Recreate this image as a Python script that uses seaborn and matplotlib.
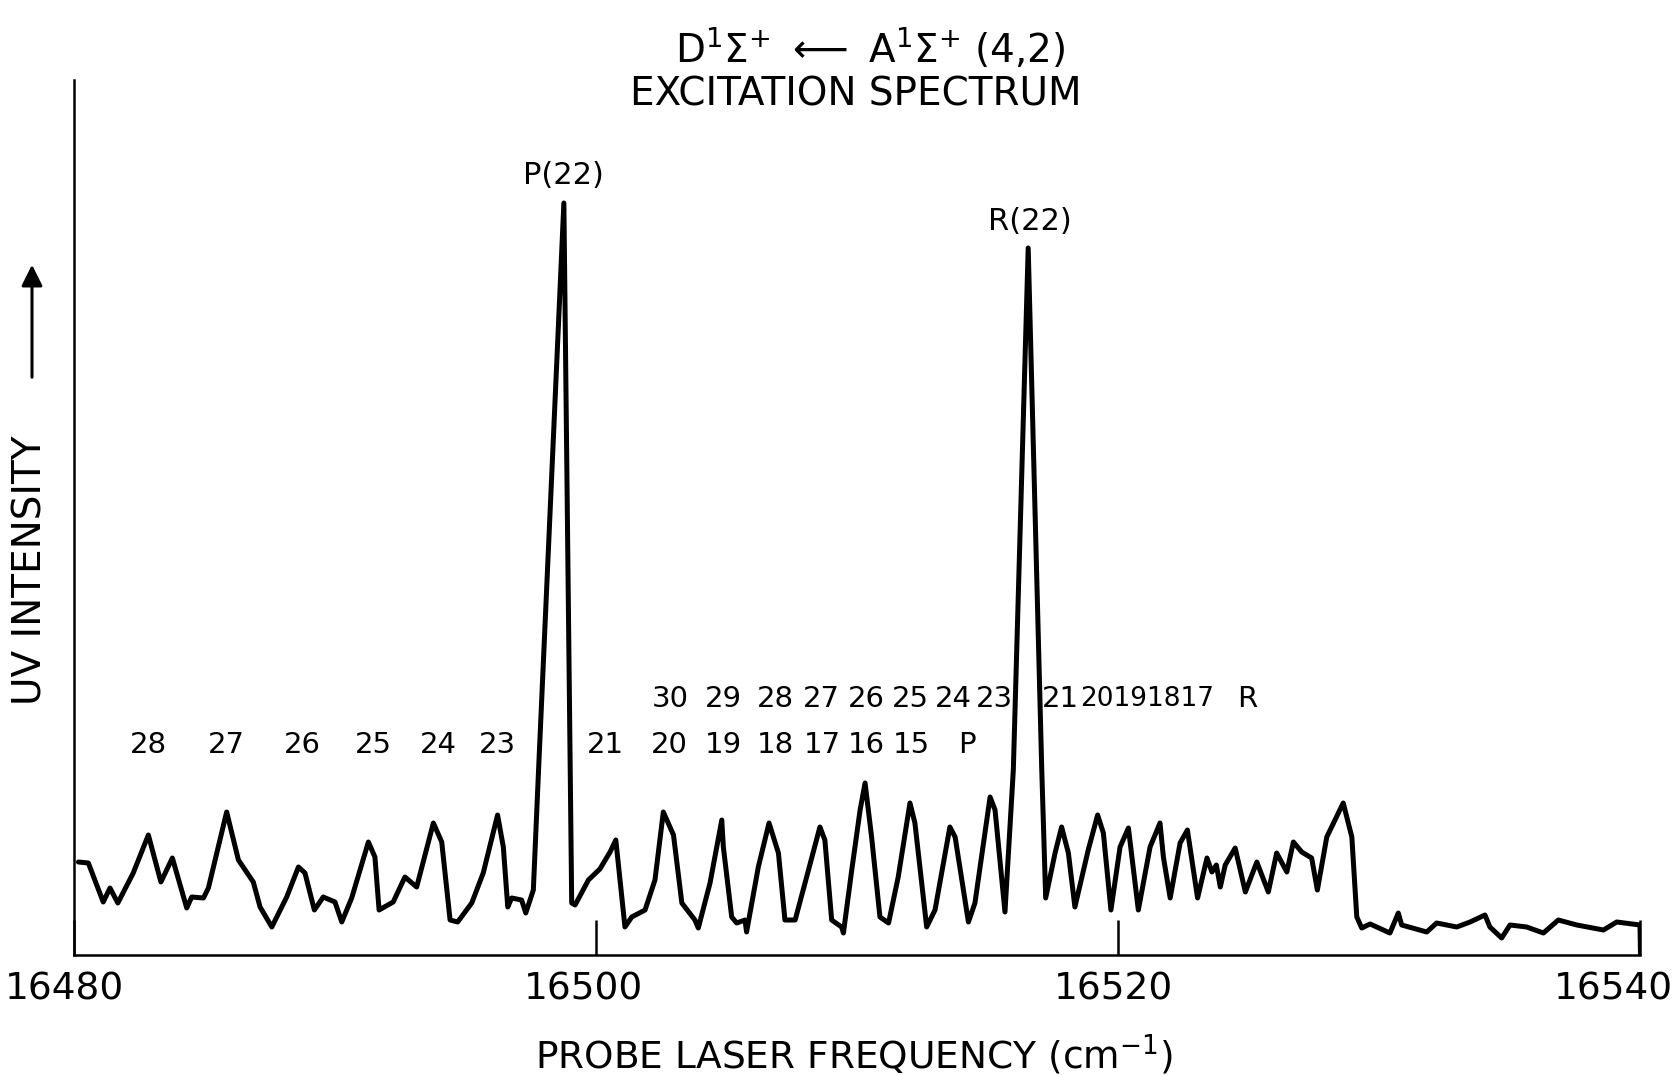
import numpy as np
import pandas as pd
import matplotlib
matplotlib.use("Agg")
import matplotlib.pyplot as plt
import matplotlib.transforms as mtransforms
import seaborn as sns

# ---- data (frequency in cm^-1, intensity in arbitrary units) ----
freq = [
    16480.15, 16480.53, 16481.10, 16481.36, 16481.66, 16482.25, 16482.83, 16483.31,
    16483.75, 16484.30, 16484.49, 16484.94, 16485.13, 16485.83, 16486.28, 16486.85,
    16487.11, 16487.56, 16488.13, 16488.58, 16488.83, 16489.19, 16489.53, 16489.98,
    16490.24, 16490.62, 16490.94, 16491.26, 16491.51, 16491.67, 16492.21, 16492.66,
    16493.11, 16493.75, 16494.07, 16494.39, 16494.68, 16495.22, 16495.66, 16496.21,
    16496.43, 16496.60, 16496.75, 16497.13, 16497.29, 16497.58, 16497.78, 16498.75,
    16499.05, 16499.18, 16499.69, 16500.13, 16500.52, 16500.74, 16501.09, 16501.35,
    16501.86, 16502.24, 16502.56, 16502.95, 16503.27, 16503.77, 16503.90, 16504.35,
    16504.80, 16504.86, 16505.18, 16505.37, 16505.69, 16505.75, 16506.20, 16506.61,
    16506.97, 16507.22, 16507.61, 16507.99, 16508.56, 16508.75, 16509.01, 16509.39,
    16509.46, 16509.78, 16510.10, 16510.29, 16510.54, 16510.86, 16511.19, 16511.56,
    16512.01, 16512.20, 16512.65, 16512.97, 16513.54, 16513.74, 16514.25, 16514.50,
    16515.08, 16515.27, 16515.65, 16515.97, 16516.54, 16517.06, 16517.21, 16517.57,
    16517.82, 16518.08, 16518.33, 16518.84, 16519.20, 16519.42, 16519.71, 16520.06,
    16520.38, 16520.76, 16521.21, 16521.59, 16521.72, 16521.98, 16522.36, 16522.64,
    16523.03, 16523.39, 16523.58, 16523.75, 16523.90, 16524.09, 16524.47, 16524.86,
    16525.30, 16525.74, 16526.06, 16526.45, 16526.70, 16527.02, 16527.40, 16527.62,
    16527.98, 16528.61, 16528.94, 16529.13, 16529.32, 16529.64, 16530.40, 16530.72,
    16530.85, 16531.81, 16532.19, 16532.96, 16533.47, 16534.04, 16534.23, 16534.68,
    16535.00, 16535.64, 16536.28, 16536.85, 16537.56, 16538.58, 16539.09, 16539.98,
]
intensity = [
    9.3, 9.2, 5.3, 6.7, 5.2, 8.2, 12.0, 7.3,
    9.7, 4.7, 5.8, 5.7, 6.7, 14.3, 9.5, 7.3,
    4.8, 2.8, 5.8, 8.8, 8.2, 4.5, 5.8, 5.3,
    3.3, 5.7, 8.5, 11.3, 9.8, 4.5, 5.3, 7.8,
    6.8, 13.2, 11.3, 3.5, 3.3, 5.2, 8.2, 14.0,
    10.8, 4.8, 5.7, 5.5, 4.2, 6.5, 18.5, 75.2,
    5.2, 5.0, 7.5, 8.6, 10.3, 11.5, 2.8, 3.8,
    4.5, 7.5, 14.3, 12.0, 5.2, 3.5, 2.7, 7.2,
    13.5, 10.8, 3.8, 3.2, 3.5, 2.3, 8.8, 13.2,
    10.2, 3.5, 3.5, 7.2, 12.8, 11.5, 3.5, 2.8,
    2.2, 8.5, 14.5, 17.2, 11.8, 3.8, 3.2, 7.8,
    15.2, 13.2, 2.8, 4.5, 12.8, 11.8, 3.3, 5.2,
    15.8, 14.5, 4.3, 18.5, 70.7, 18.5, 5.7, 10.2,
    12.8, 10.2, 4.8, 10.5, 14.0, 12.2, 4.5, 10.8,
    12.7, 4.5, 10.8, 13.2, 9.8, 5.7, 11.2, 12.5,
    5.7, 9.7, 8.3, 9.0, 6.8, 9.0, 10.7, 6.3,
    9.3, 6.3, 10.2, 8.3, 11.3, 10.3, 9.7, 6.5,
    11.8, 15.2, 11.8, 3.8, 2.7, 3.1, 2.2, 4.2,
    3.0, 2.3, 3.2, 2.8, 3.3, 4.0, 2.8, 1.7,
    3.0, 2.8, 2.2, 3.5, 3.0, 2.5, 3.3, 3.0,
]

x_ticks = [16480, 16500, 16520, 16540]
x_ticklabels = ["16480", "16500", "16520", "16540"]

peak_labels = ["P(22)", "R(22)"]
peak_freq = [16498.75, 16516.60]
peak_label_y = [77.9, 73.3]

row1_labels = ["28", "27", "26", "25", "24", "23", "21", "20", "19", "18", "17", "16", "15", "P"]
row1_freq = [16482.85, 16485.80, 16488.72, 16491.44, 16493.93, 16496.19, 16500.33,
             16502.78, 16504.85, 16506.84, 16508.64, 16510.33, 16512.05, 16514.20]
row2_labels = ["30", "29", "28", "27", "26", "25", "24", "23", "21", "20191817", "R"]
row2_freq = [16502.82, 16504.85, 16506.84, 16508.60, 16510.33, 16512.02, 16513.66,
             16515.23, 16517.76, 16521.11, 16524.92]
row1_y = 21.0
row2_y = 25.6

# ---- styling ----
sns.set_theme(style="white")
plt.rcParams["font.family"] = ["DejaVu Sans"]
plt.rcParams["mathtext.fontset"] = "dejavusans"

W, H = 1674, 1075
fig = plt.figure(figsize=(W / 100, H / 100), dpi=100)
ax = fig.add_axes([74.5 / W, 1 - 955 / H, (1640.5 - 74.5) / W, (955 - 80) / H])

df = pd.DataFrame({"freq": freq, "intensity": intensity})
# the recorder trace ends by dropping to the axis at 16540
df = pd.concat([df, pd.DataFrame({"freq": [16540.0], "intensity": [0.0]})], ignore_index=True)
sns.lineplot(data=df, x="freq", y="intensity", ax=ax, color="black",
             linewidth=3.6, estimator=None, sort=False)

ax.set_xlim(16480, 16540)
ax.set_ylim(0, 87.5)

for side in ["top", "right"]:
    ax.spines[side].set_visible(False)
for side in ["left", "bottom"]:
    ax.spines[side].set_color("black")
    ax.spines[side].set_linewidth(1.8)

ax.set_xticks(x_ticks)
ax.set_xticklabels(x_ticklabels, fontsize=27)
ax.tick_params(axis="x", direction="in", length=25, width=1.8, colors="black", pad=12, bottom=True)
ax.set_yticks([])

offsets = [-10, -13, -5, -27]
for lab, off in zip(ax.get_xticklabels(), offsets):
    lab.set_transform(lab.get_transform() + mtransforms.ScaledTranslation(off / 100, 0, fig.dpi_scale_trans))

ax.set_xlabel("PROBE LASER FREQUENCY (cm$^{-1}$)", fontsize=27, color="black", va="center")
ax.xaxis.set_label_coords(0.498, -0.114)

ax.set_ylabel("UV INTENSITY", fontsize=28, color="black", va="center")
ax.yaxis.set_label_coords(-0.028, 0.44)
ax.annotate("", xy=(32 / W, 1 - 262 / H), xytext=(32 / W, 1 - 380 / H),
            xycoords="figure fraction", textcoords="figure fraction",
            arrowprops=dict(arrowstyle="-|>", color="black", lw=2.2, mutation_scale=32))

# titles
ax.text(0.508, 1.037, r"$\mathrm{D}^{1}\Sigma^{+}$ $\longleftarrow$ $\mathrm{A}^{1}\Sigma^{+}$ (4,2)",
        transform=ax.transAxes, ha="center", va="center", fontsize=28, color="black")
ax.text(0.499, 0.984, "EXCITATION SPECTRUM", transform=ax.transAxes,
        ha="center", va="center", fontsize=28, color="black")

# line labels
for lab, f, yv in zip(peak_labels, peak_freq, peak_label_y):
    ax.text(f, yv, lab, ha="center", va="center", fontsize=22, color="black")
for lab, f in zip(row1_labels, row1_freq):
    ax.text(f, row1_y, lab, ha="center", va="center", fontsize=21, color="black")
for lab, f in zip(row2_labels, row2_freq):
    ax.text(f, row2_y, lab, ha="center", va="center", fontsize=21 if len(lab) < 4 else 19,
            color="black")

fig.savefig("out.png", dpi=100, facecolor="white")
